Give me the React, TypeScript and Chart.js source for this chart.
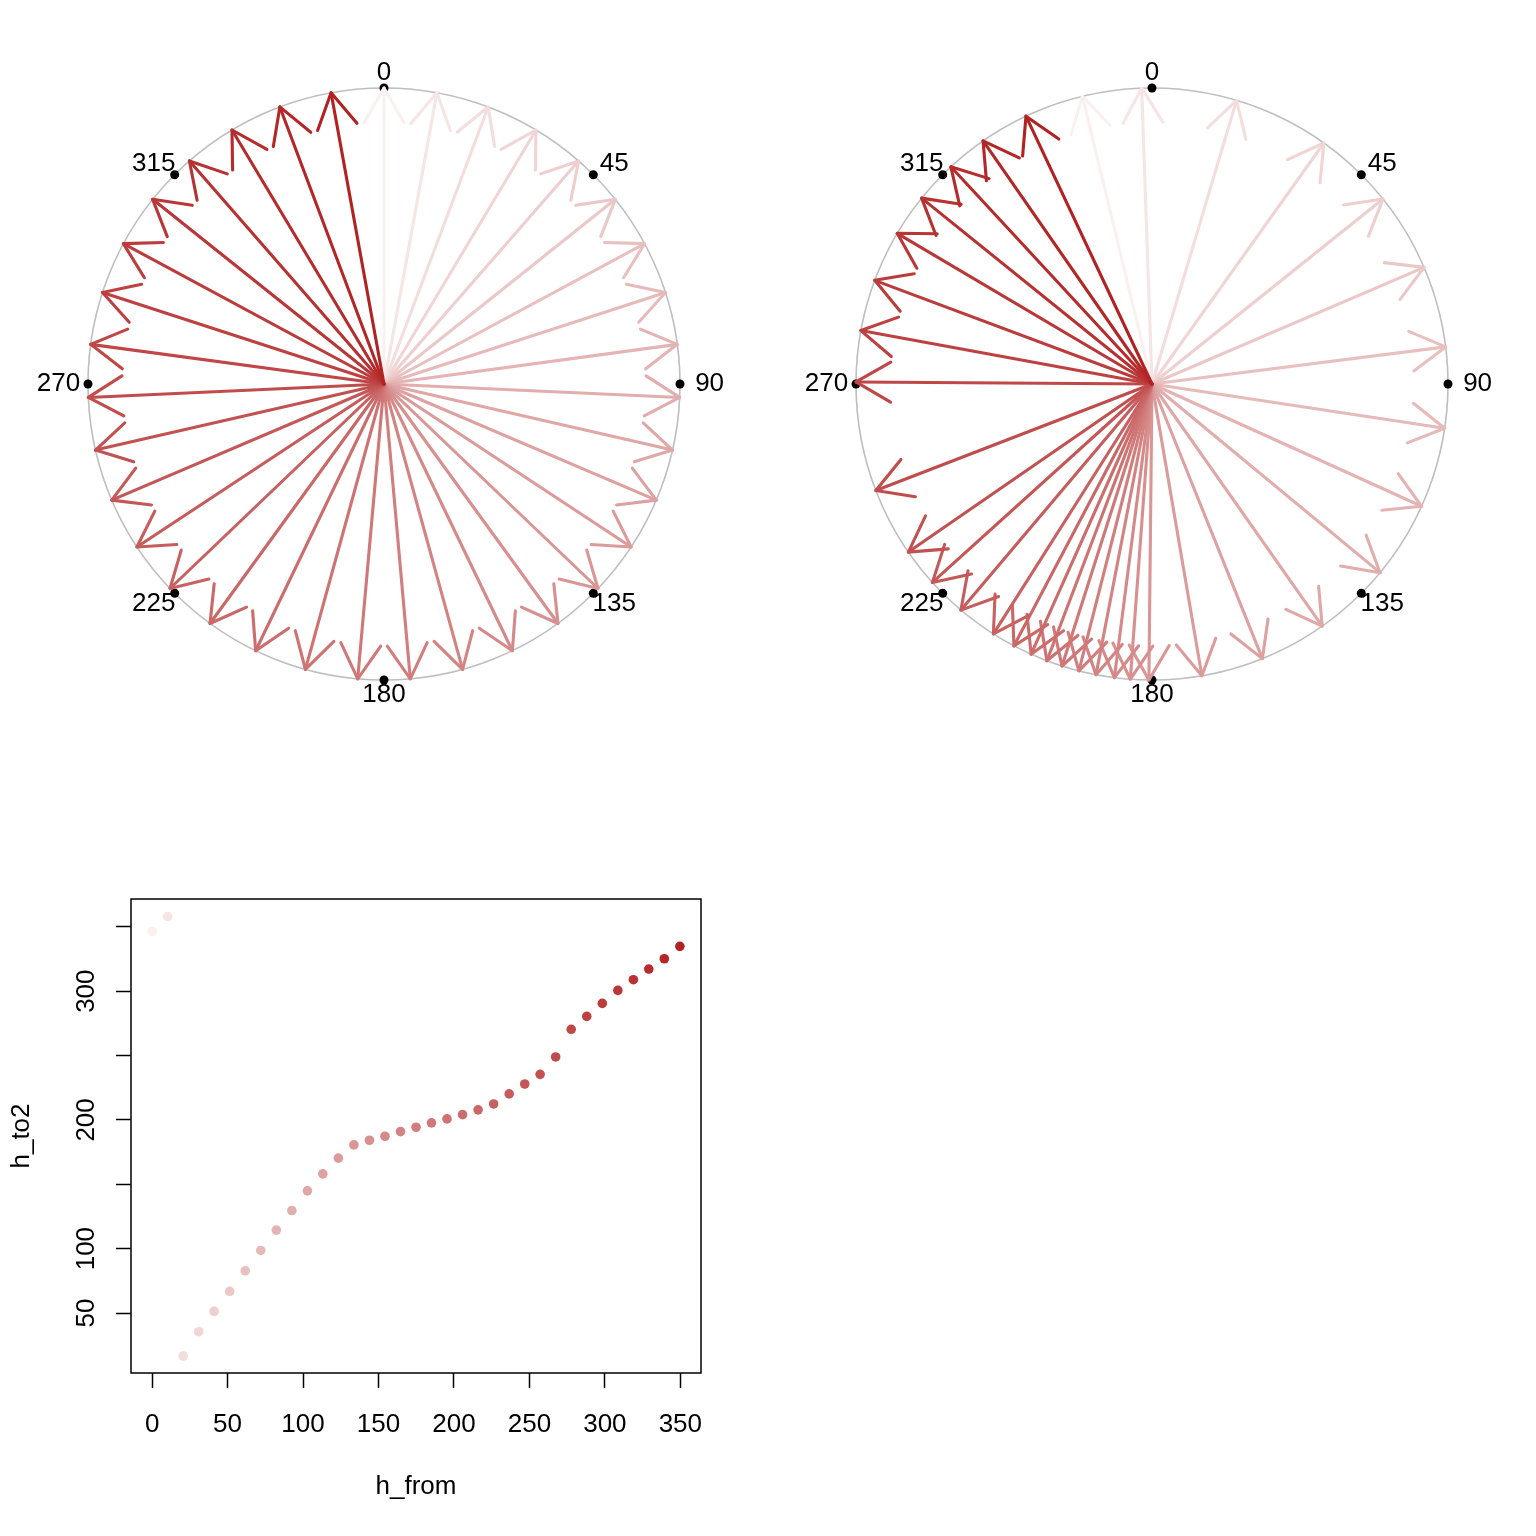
import { useEffect, useRef } from "react"
import { Chart, registerables } from "chart.js"

Chart.register(...registerables)

// hue before (evenly spaced round the circle) and after the mapping
const H_FROM = [
  0, 10.3, 20.6, 30.9, 41.1, 51.4, 61.7, 72, 82.3, 92.6, 102.9, 113.1, 123.4, 133.7, 144, 154.3, 164.6, 174.9,
  185.1, 195.4, 205.7, 216, 226.3, 236.6, 246.9, 257.1, 267.4, 277.7, 288, 298.3, 308.6, 318.9, 329.1, 339.4, 349.7,
]
const H_TO2 = [
  346.4, 358, 16.6, 35.5, 51.3, 66.8, 82.8, 98.6, 114.4, 129.6, 144.9, 158.1, 170.3, 180.6, 184.2, 187.3, 190.9,
  194.3, 197.7, 200.8, 204.1, 207.8, 212.4, 220.2, 227.9, 235.4, 248.9, 270.4, 280.4, 290.5, 300.6, 308.9, 317.2,
  325.2, 334.8,
]
const DEG_TICKS = [0, 45, 90, 135, 180, 225, 270, 315]
const X_TICKS = [0, 50, 100, 150, 200, 250, 300, 350]
const Y_TICKS = [50, 100, 150, 200, 250, 300, 350]
const Y_LABELS = [50, 100, 200, 300]

const FONT = "'Liberation Sans', Arimo, Helvetica, Arial, sans-serif"
const FONT_SIZE = 26
const HEAD = 40 / 296 // arrow head length, in circle radii

// white -> firebrick ramp, one colour per point
const COLORS = H_FROM.map((_, i) => {
  const t = 0.07 + 0.93 * Math.pow(i / (H_FROM.length - 1), 0.85)
  const r = Math.round(255 - (255 - 178) * t)
  const g = Math.round(255 - (255 - 34) * t)
  return `rgb(${r}, ${g}, ${g})`
})

const rad = (d: number) => (d * Math.PI) / 180

const polarPlugin = {
  id: "polarDeco",
  beforeDatasetsDraw(chart: any) {
    const { ctx, scales } = chart
    const cx = scales.x.getPixelForValue(0)
    const cy = scales.y.getPixelForValue(0)
    const r = scales.x.getPixelForValue(1) - cx
    ctx.save()
    ctx.strokeStyle = "#BEBEBE"
    ctx.lineWidth = 1.6
    ctx.beginPath()
    ctx.arc(cx, cy, r, 0, Math.PI * 2)
    ctx.stroke()
    ctx.restore()
  },
  afterDatasetsDraw(chart: any) {
    const { ctx, scales } = chart
    ctx.save()
    ctx.fillStyle = "#000"
    ctx.font = `${FONT_SIZE}px ${FONT}`
    ctx.textBaseline = "middle"
    ctx.textAlign = "center"
    DEG_TICKS.forEach((d) => {
      const x = scales.x.getPixelForValue(1.1 * Math.sin(rad(d)))
      const y = scales.y.getPixelForValue(1.05 * Math.cos(rad(d)))
      ctx.fillText(String(d), x, y)
    })
    ctx.restore()
  },
}

function polarConfig(angles: number[]): any {
  const datasets: any[] = []
  const lineStyle = {
    showLine: true,
    borderWidth: 3.1,
    pointRadius: 0,
    clip: false,
    borderCapStyle: "round",
    borderJoinStyle: "round",
  }
  // last arrow first, so that later arrows end up on top
  for (let i = angles.length - 1; i >= 0; i--) {
    const a = rad(angles[i])
    const tip = { x: Math.sin(a), y: Math.cos(a) }
    const barb = (s: number) => {
      const b = a + Math.PI + (s * Math.PI) / 6
      return { x: tip.x + HEAD * Math.sin(b), y: tip.y + HEAD * Math.cos(b) }
    }
    datasets.push({ ...lineStyle, data: [barb(-1), tip, barb(1)], borderColor: COLORS[i] })
    datasets.push({ ...lineStyle, data: [{ x: 0, y: 0 }, tip], borderColor: COLORS[i] })
  }
  datasets.push({
    data: DEG_TICKS.map((d) => ({ x: Math.sin(rad(d)), y: Math.cos(rad(d)) })),
    showLine: false,
    pointRadius: 4.5,
    pointBorderWidth: 0,
    pointBackgroundColor: "#000",
    clip: false,
  })
  return {
    type: "scatter",
    data: { datasets },
    options: {
      responsive: false,
      animation: false,
      events: [],
      layout: { padding: 88 },
      plugins: { legend: { display: false }, tooltip: { enabled: false } },
      scales: {
        x: { type: "linear", min: -1, max: 1, display: false },
        y: { type: "linear", min: -1, max: 1, display: false },
      },
    },
    plugins: [polarPlugin],
  }
}

const scatterPlugin = {
  id: "scatterDeco",
  afterDraw(chart: any) {
    const { ctx, chartArea, scales } = chart
    ctx.save()
    ctx.strokeStyle = "#000"
    ctx.lineWidth = 1.5
    ctx.strokeRect(chartArea.left, chartArea.top, chartArea.right - chartArea.left, chartArea.bottom - chartArea.top)
    ctx.fillStyle = "#000"
    ctx.font = `${FONT_SIZE}px ${FONT}`
    ctx.textAlign = "center"
    ctx.textBaseline = "middle"
    Y_LABELS.forEach((v) => {
      ctx.save()
      ctx.translate(chartArea.left - 44, scales.y.getPixelForValue(v))
      ctx.rotate(-Math.PI / 2)
      ctx.fillText(String(v), 0, 0)
      ctx.restore()
    })
    ctx.fillText("h_from", (chartArea.left + chartArea.right) / 2, 719)
    ctx.save()
    ctx.translate(22, (chartArea.top + chartArea.bottom) / 2)
    ctx.rotate(-Math.PI / 2)
    ctx.fillText("h_to2", 0, 0)
    ctx.restore()
    ctx.restore()
  },
}

function scatterConfig(): any {
  const tickGrid = {
    drawOnChartArea: false,
    drawTicks: true,
    tickLength: 15,
    tickWidth: 1.5,
    tickColor: "#000",
  }
  return {
    type: "scatter",
    data: {
      datasets: [
        {
          data: H_FROM.map((h, i) => ({ x: h, y: H_TO2[i] })),
          pointRadius: 4.8,
          pointBorderWidth: 0,
          pointBackgroundColor: COLORS,
        },
      ],
    },
    options: {
      responsive: false,
      animation: false,
      events: [],
      layout: { padding: { top: 131, right: 67, left: 0, bottom: 0 } },
      plugins: { legend: { display: false }, tooltip: { enabled: false } },
      scales: {
        x: {
          type: "linear",
          min: -14,
          max: 363.7,
          afterBuildTicks: (s: any) => {
            s.ticks = X_TICKS.map((value) => ({ value }))
          },
          afterFit: (s: any) => {
            s.height = 163
          },
          ticks: {
            autoSkip: false,
            maxRotation: 0,
            padding: 21,
            color: "#000",
            font: { family: FONT, size: FONT_SIZE },
          },
          grid: tickGrid,
          border: { display: false },
        },
        y: {
          type: "linear",
          min: 3.4,
          max: 371.6,
          afterBuildTicks: (s: any) => {
            s.ticks = Y_TICKS.map((value) => ({ value }))
          },
          afterFit: (s: any) => {
            s.width = 131
          },
          ticks: { display: false },
          grid: tickGrid,
          border: { display: false },
        },
      },
    },
    plugins: [scatterPlugin],
  }
}

function ChartCanvas({ config, left, top }: { config: () => any; left: number; top: number }) {
  const ref = useRef<HTMLCanvasElement>(null)
  useEffect(() => {
    if (!ref.current) return
    const chart = new Chart(ref.current, config())
    return () => chart.destroy()
  }, [])
  return (
    <canvas
      ref={ref}
      width={768}
      height={768}
      style={{ position: "absolute", left, top, width: 768, height: 768 }}
    />
  )
}

export default function App() {
  return (
    <div style={{ position: "absolute", left: 0, top: 0, width: 1536, height: 1536, background: "#fff" }}>
      <ChartCanvas config={() => polarConfig(H_FROM)} left={0} top={0} />
      <ChartCanvas config={() => polarConfig(H_TO2)} left={768} top={0} />
      <ChartCanvas config={scatterConfig} left={0} top={768} />
    </div>
  )
}
